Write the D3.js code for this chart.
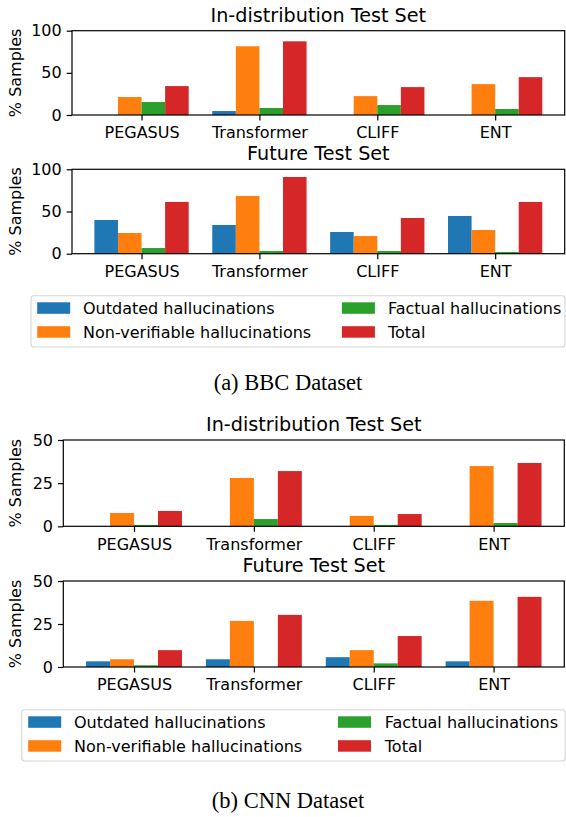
<!DOCTYPE html>
<html>
<head>
<meta charset="utf-8">
<script src="https://cdn.jsdelivr.net/npm/d3@7"></script>
<style>
  body { margin: 0; background: #fff; }
  svg { display: block; }
  text { font-family: "DejaVu Sans", sans-serif; fill: #000; }
  .caption { font-family: "Liberation Serif", "Times New Roman", serif; }
</style>
</head>
<body>
<svg id="chart" width="566" height="817"></svg>
<script>
// categories and series names
var categories = ["PEGASUS", "Transformer", "CLIFF", "ENT"];
var seriesNames = ["Outdated hallucinations", "Non-verifiable hallucinations", "Factual hallucinations", "Total"];

// BBC - in-distribution test set (% samples)
var bbcInOutdated = [0, 4.7, 0, 0];
var bbcInNonVerifiable = [21.3, 81.5, 22.4, 36.6];
var bbcInFactual = [15.4, 8.3, 11.8, 7.1];
var bbcInTotal = [34.3, 87.4, 33.1, 44.9];

// BBC - future test set
var bbcFutOutdated = [39.9, 34.0, 25.7, 44.7];
var bbcFutNonVerifiable = [24.5, 68.4, 20.9, 28.1];
var bbcFutFactual = [6.7, 3.2, 3.2, 2.0];
var bbcFutTotal = [61.3, 90.9, 42.3, 61.3];

// CNN - in-distribution test set
var cnnInOutdated = [0, 0, 0, 0];
var cnnInNonVerifiable = [7.7, 28.0, 6.0, 34.9];
var cnnInFactual = [0.8, 4.2, 0.8, 1.9];
var cnnInTotal = [8.9, 32.0, 7.1, 36.7];

// CNN - future test set
var cnnFutOutdated = [3.3, 4.5, 5.7, 3.3];
var cnnFutNonVerifiable = [4.5, 26.8, 9.8, 38.5];
var cnnFutFactual = [1.0, 0, 2.1, 0];
var cnnFutTotal = [9.8, 30.3, 18.0, 40.8];

var bbcYTicks = [0, 50, 100];
var cnnYTicks = [0, 25, 50];

var colors = ["#1f77b4", "#ff7f0e", "#2ca02c", "#d62728"];

var svg = d3.select("#chart");

function drawPanel(box, title, yMax, yTicks, series) {
  var x = d3.scaleLinear().domain([-0.59, 3.59]).range([box.l, box.r]);
  var y = d3.scaleLinear().domain([0, yMax]).range([box.b, box.t]);
  var inner = d3.scaleBand().domain(d3.range(series.length)).range([-0.4, 0.4]);

  var g = svg.append("g");

  series.forEach(function(vals, s) {
    g.selectAll(null)
      .data(vals)
      .enter()
      .append("rect")
      .attr("x", (d, i) => x(i + inner(s)))
      .attr("width", (d, i) => x(i + inner(s) + inner.bandwidth()) - x(i + inner(s)))
      .attr("y", d => y(d))
      .attr("height", d => y(0) - y(d))
      .attr("fill", colors[s]);
  });

  var xAxis = g.append("g")
    .attr("transform", "translate(0," + box.b + ")")
    .call(d3.axisBottom(x).tickValues(d3.range(categories.length))
      .tickFormat(i => categories[i]).tickSize(5.5).tickPadding(6.5));
  var yAxis = g.append("g")
    .attr("transform", "translate(" + box.l + ",0)")
    .call(d3.axisLeft(y).tickValues(yTicks).tickSize(5.3).tickPadding(5));

  [xAxis, yAxis].forEach(function(a) {
    a.select(".domain").remove();
    a.selectAll(".tick line").attr("stroke", "#000").attr("stroke-width", 1.2);
    a.selectAll(".tick text").attr("font-size", 16).attr("font-family", "DejaVu Sans").attr("fill", "#000");
  });

  // frame
  g.append("rect")
    .attr("x", box.l).attr("y", box.t)
    .attr("width", box.r - box.l).attr("height", box.b - box.t)
    .attr("fill", "none").attr("stroke", "#000").attr("stroke-width", 1.2);

  g.append("text")
    .attr("x", (box.l + box.r) / 2).attr("y", box.t - 9)
    .attr("text-anchor", "middle").attr("font-size", 19.2)
    .text(title);

  g.append("text")
    .attr("transform", "translate(21," + (box.t + box.b) / 2 + ")rotate(-90)")
    .attr("text-anchor", "middle").attr("font-size", 16)
    .text("% Samples");
}

function drawLegend(lg) {
  var g = svg.append("g");
  g.append("rect")
    .attr("x", lg.x).attr("y", lg.y).attr("width", lg.w).attr("height", 51.3)
    .attr("rx", 3).attr("fill", "#fff").attr("stroke", "#d6d6d6").attr("stroke-width", 1.1);

  var rows = [lg.y + 6.6, lg.y + 30.5];
  seriesNames.forEach(function(name, s) {
    var col = Math.floor(s / 2), row = s % 2;
    g.append("rect")
      .attr("x", lg.patch[col]).attr("y", rows[row])
      .attr("width", 33).attr("height", 11.5)
      .attr("fill", colors[s]);
    g.append("text")
      .attr("x", lg.text[col]).attr("y", rows[row] + 11.8)
      .attr("font-size", 16)
      .text(name);
  });
}

function caption(txt, cx, y) {
  svg.append("text").attr("class", "caption")
    .attr("x", cx).attr("y", y)
    .attr("text-anchor", "middle").attr("font-size", 22.5)
    .text(txt);
}

drawPanel({l: 72, r: 564.7, t: 30.7, b: 115}, "In-distribution Test Set", 100, bbcYTicks,
  [bbcInOutdated, bbcInNonVerifiable, bbcInFactual, bbcInTotal]);
drawPanel({l: 72, r: 564.7, t: 169.3, b: 253.7}, "Future Test Set", 100, bbcYTicks,
  [bbcFutOutdated, bbcFutNonVerifiable, bbcFutFactual, bbcFutTotal]);
drawLegend({x: 31, y: 295.7, w: 534, patch: [37.2, 341.9], text: [83, 388]});
caption("(a) BBC Dataset", 288, 390);

drawPanel({l: 63.3, r: 564.3, t: 440, b: 526.3}, "In-distribution Test Set", 50, cnnYTicks,
  [cnnInOutdated, cnnInNonVerifiable, cnnInFactual, cnnInTotal]);
drawPanel({l: 63.3, r: 564.3, t: 581, b: 667}, "Future Test Set", 50, cnnYTicks,
  [cnnFutOutdated, cnnFutNonVerifiable, cnnFutFactual, cnnFutTotal]);
drawLegend({x: 21.7, y: 709.7, w: 543.5, patch: [28.2, 338], text: [74, 384.8]});
caption("(b) CNN Dataset", 288, 808);
</script>
</body>
</html>
